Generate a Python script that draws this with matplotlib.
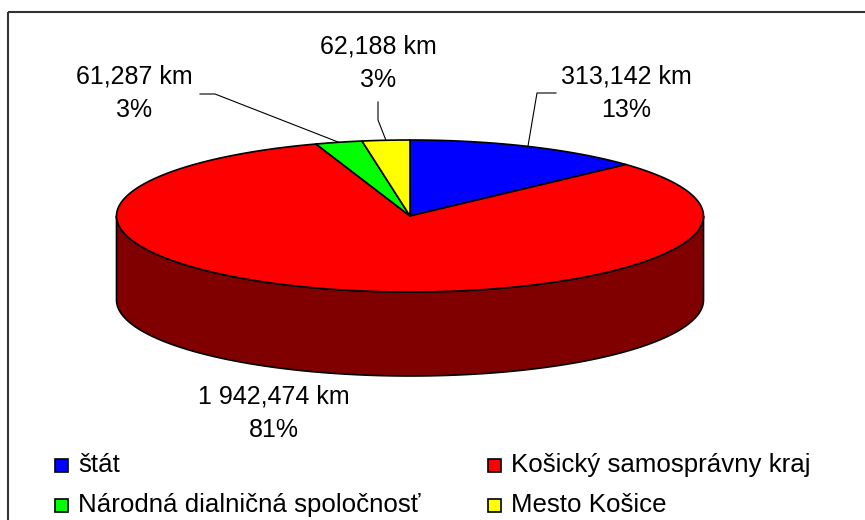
import numpy as np
import matplotlib.pyplot as plt
from matplotlib.patches import Polygon, Rectangle

plt.rcParams['font.family'] = ['Liberation Sans', 'DejaVu Sans']

# data
names = ['štát', 'Košický samosprávny kraj', 'Národná dialničná spoločnosť', 'Mesto Košice']
lengths_km = [313.142, 1942.474, 61.287, 62.188]
pct_labels = ['13%', '81%', '3%', '3%']
colors = ['#0000ff', '#ff0000', '#00ff00', '#ffff00']
side_colors = ['#000080', '#800000', '#008000', '#808000']

# layout (pixels)
cx, cy = 410, 216
ra, rb = 293.5, 76
depth = 84
label_xy = [(626, 93), (274, 413), (134, 93), (378, 63)]
elbows = [[(537, 93), (556, 93)], None, [(215, 94), (200, 94)], [(378, 120), (378, 102)]]
legend_xy = [(55, 465), (488, 465), (55, 505), (488, 505)]


def ell(t, dy=0):
    t = np.radians(t)
    return np.column_stack([cx + ra * np.cos(t), cy + dy - rb * np.sin(t)])


def fmt_km(v):
    s = f'{v:,.3f}'.replace(',', ' ').replace('.', ',')
    return s + ' km'


fig = plt.figure(figsize=(8.65, 5.2), dpi=100)
ax = fig.add_axes([0, 0, 1, 1])
ax.set_xlim(0, 865)
ax.set_ylim(520, 0)
ax.axis('off')

# chart frame
ax.add_patch(Rectangle((8, 12), 870, 520, fill=False, edgecolor='#333333', lw=1.5, zorder=0))

vals = np.array(lengths_km)
angles = vals / vals.sum() * 360
starts = 90 - np.concatenate([[0], np.cumsum(angles)[:-1]])
ends = starts - angles

# side walls (front half only)
for s, e, sc in zip(starts, ends, side_colors):
    lo, hi = e, s
    for k in (-360, 0, 360):
        a0, a1 = max(lo + k, 180), min(hi + k, 360)
        if a1 > a0:
            t = np.linspace(a0, a1, 120)
            pts = np.vstack([ell(t), ell(t[::-1], depth)])
            ax.add_patch(Polygon(pts, closed=True, facecolor=sc, edgecolor='black',
                                 lw=1.2, joinstyle='round', zorder=1))

# top wedges
for s, e, c in zip(starts, ends, colors):
    t = np.linspace(s, e, 300)
    pts = np.vstack([[cx, cy], ell(t)])
    ax.add_patch(Polygon(pts, closed=True, facecolor=c, edgecolor='black',
                         lw=1.2, joinstyle='round', zorder=2))

# data labels and leader lines
mids = (starts + ends) / 2
for i, v in enumerate(lengths_km):
    x, y = label_xy[i]
    ax.text(x, y, fmt_km(v) + '\n' + pct_labels[i], ha='center', va='center',
            fontsize=18, linespacing=1.5, zorder=5)
    if elbows[i] is not None:
        p = ell(np.array([mids[i]]))[0]
        line = np.vstack([p, elbows[i]])
        ax.plot(line[:, 0], line[:, 1], color='black', lw=0.8, zorder=4)

# legend
for (x, y), name, c in zip(legend_xy, names, colors):
    ax.add_patch(Rectangle((x, y - 6.5), 13, 13, facecolor=c, edgecolor='black', lw=1.2, zorder=5))
    ax.text(x + 23, y, name, ha='left', va='center', fontsize=18.6, zorder=5)

fig.savefig('out.png', dpi=100)
